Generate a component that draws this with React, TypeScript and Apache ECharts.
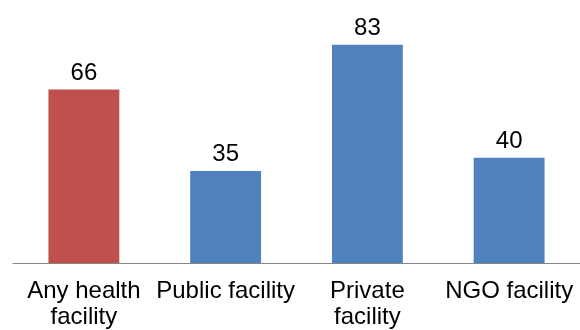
import React, { useEffect, useRef } from "react";
import * as echarts from "echarts";

const categories = ["Any health facility", "Public facility", "Private facility", "NGO facility"];
const axisLabels = ["Any health\nfacility", "Public facility", "Private\nfacility", "NGO facility"];
const values = [66, 35, 83, 40];
const barColors = ["#C0504D", "#4F81BD", "#4F81BD", "#4F81BD"];

export default function App() {
  const ref = useRef<HTMLDivElement>(null);
  useEffect(() => {
    if (!ref.current) return;
    const chart = echarts.init(ref.current, null, { renderer: "svg" });
    chart.setOption({
      animation: false,
      grid: { left: 13, width: 568, top: 0, bottom: 67 },
      xAxis: {
        type: "category",
        data: categories,
        axisLine: { lineStyle: { color: "#868686", width: 1 } },
        axisTick: { show: false },
        axisLabel: {
          interval: 0,
          margin: 13,
          fontFamily: "Liberation Sans, Arial, sans-serif",
          fontSize: 24,
          lineHeight: 26,
          color: "#000",
          formatter: (_v: string, i: number) => axisLabels[i],
        },
      },
      yAxis: { type: "value", min: 0, max: 100, show: false, splitLine: { show: false } },
      series: [
        {
          type: "bar",
          barWidth: "50%",
          data: values.map((v, i) => ({ value: v, itemStyle: { color: barColors[i] } })),
          label: {
            show: true,
            position: "top",
            distance: 6,
            fontFamily: "Liberation Sans, Arial, sans-serif",
            fontSize: 24,
            color: "#000",
          },
        },
      ],
    });
    return () => chart.dispose();
  }, []);
  return <div ref={ref} style={{ position: "fixed", left: 0, top: 0, width: 580, height: 330 }} />;
}
